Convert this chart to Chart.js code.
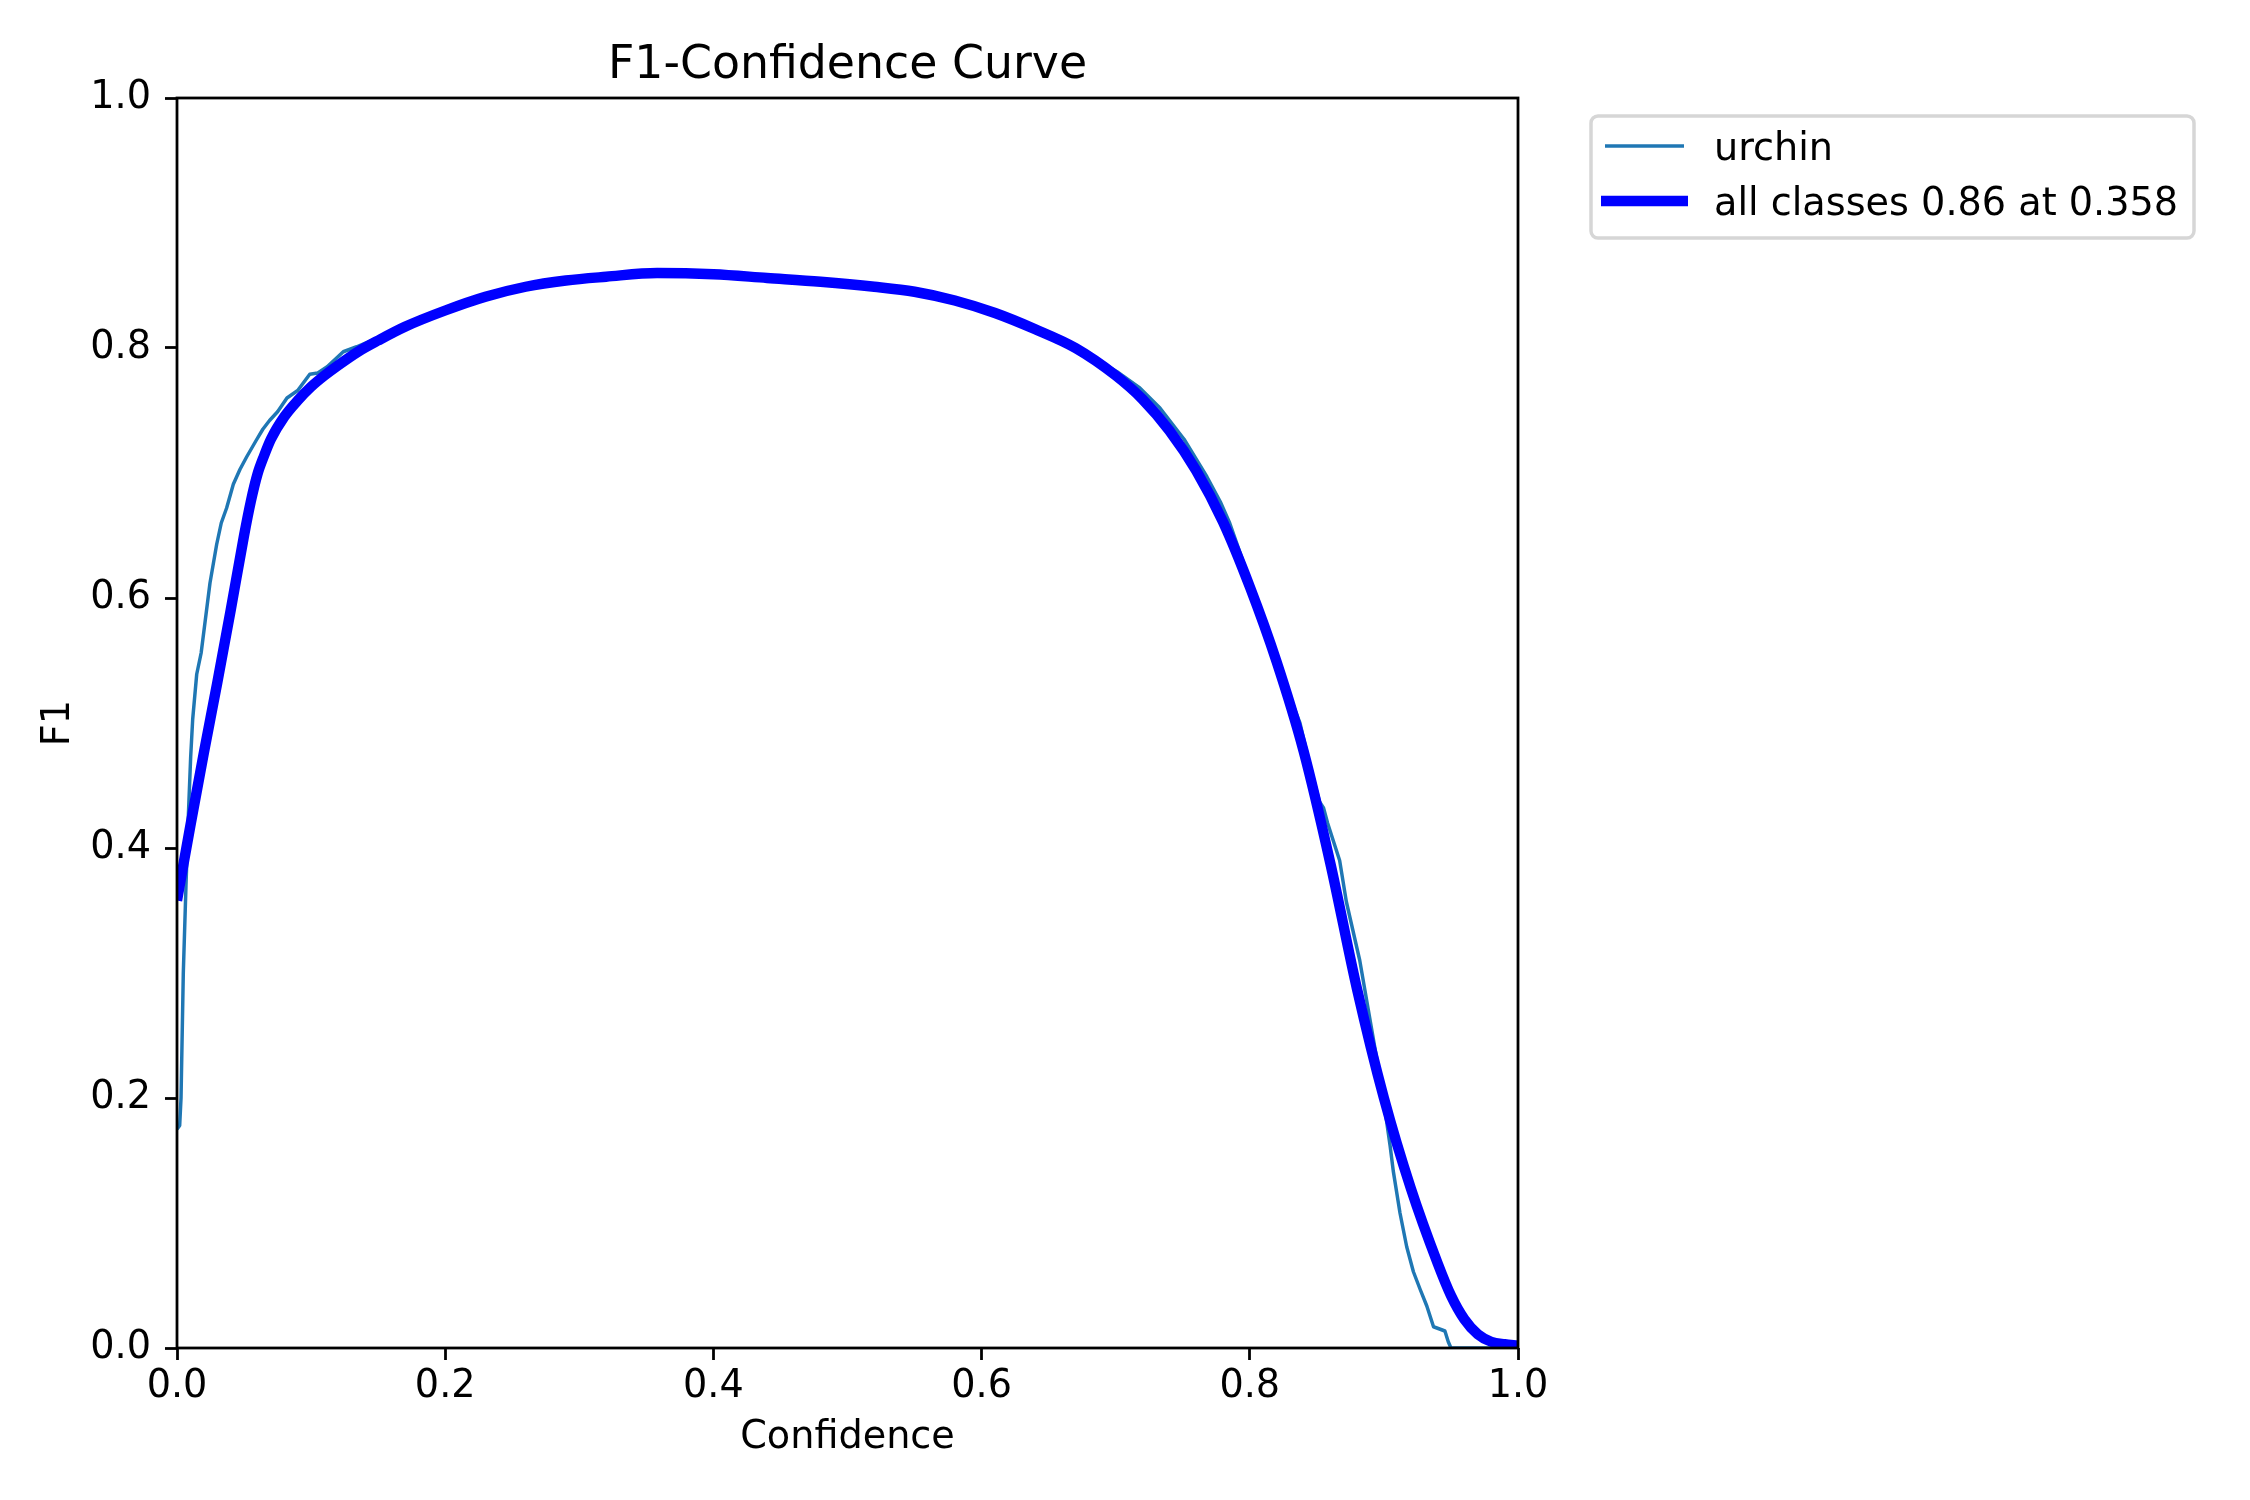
<!DOCTYPE html>
<html><head><meta charset="utf-8">
<script src="https://cdn.jsdelivr.net/npm/chart.js@4.4.1/dist/chart.umd.min.js"></script>
<style>html,body{margin:0;padding:0;background:#fff;}canvas{display:block;}</style>
</head><body>
<canvas id="c" width="2250" height="1500" style="width:2250px;height:1500px"></canvas>
<script>
// ---- data ----
const seriesNames = ['urchin', 'all classes 0.86 at 0.358'];
const titleText = 'F1-Confidence Curve';
const xLabel = 'Confidence';
const yLabel = 'F1';
const xTicks = [0, 0.2, 0.4, 0.6, 0.8, 1.0];
const yTicks = [0, 0.2, 0.4, 0.6, 0.8, 1.0];

const urchinConf = [0.000,0.002,0.003,0.0047,0.0067,0.0085,0.0102,0.0117,0.0147,0.018,0.0246,0.0296,0.033,0.037,0.042,0.047,0.052,0.059,0.064,0.069,0.075,0.082,0.090,0.099,0.105,0.112,0.124,0.134,0.169,0.200,0.231,0.262,0.293,0.330,0.365,0.4025,0.4646,0.527,0.564,0.589,0.614,0.651,0.676,0.701,0.718,0.733,0.751,0.768,0.778,0.785,0.799,0.815,0.828,0.8374,0.845,0.852,0.855,0.858,0.867,0.872,0.882,0.8946,0.902,0.9046,0.907,0.912,0.917,0.922,0.927,0.932,0.937,0.9455,0.948,0.950,1.000];
const urchinF1   = [0.175,0.178,0.200,0.300,0.370,0.427,0.473,0.503,0.539,0.556,0.612,0.643,0.660,0.672,0.691,0.703,0.713,0.726,0.735,0.742,0.749,0.760,0.766,0.779,0.780,0.785,0.797,0.801,0.817,0.831,0.843,0.850,0.855,0.858,0.860,0.859,0.854,0.849,0.843,0.834,0.825,0.810,0.797,0.781,0.768,0.752,0.727,0.697,0.677,0.660,0.617,0.568,0.526,0.500,0.465,0.437,0.432,0.420,0.390,0.357,0.310,0.232,0.1815,0.162,0.1415,0.108,0.081,0.061,0.047,0.0336,0.017,0.0136,0.005,0.000,0.000];

const allConf = [0.000,0.010,0.020,0.030,0.040,0.050,0.055,0.060,0.065,0.070,0.080,0.090,0.100,0.110,0.120,0.135,0.150,0.170,0.200,0.230,0.260,0.290,0.320,0.358,0.400,0.440,0.480,0.520,0.550,0.580,0.610,0.640,0.670,0.700,0.720,0.740,0.760,0.780,0.800,0.820,0.840,0.860,0.880,0.900,0.920,0.940,0.950,0.960,0.970,0.980,0.990,1.000];
const allF1   = [0.358,0.418,0.476,0.532,0.590,0.650,0.677,0.699,0.714,0.727,0.745,0.758,0.769,0.778,0.786,0.797,0.806,0.817,0.830,0.841,0.849,0.854,0.857,0.860,0.859,0.856,0.853,0.849,0.845,0.838,0.828,0.815,0.800,0.778,0.759,0.734,0.702,0.661,0.609,0.549,0.478,0.388,0.287,0.200,0.128,0.068,0.042,0.023,0.011,0.005,0.003,0.002];

// ---- chart ----
const FS = 38.2;
Chart.defaults.font.family = "'DejaVu Sans', sans-serif";
Chart.defaults.font.size = FS;
Chart.defaults.color = '#000';

const toXY = (xs, ys) => xs.map((x, i) => ({x: x, y: ys[i]}));

const titlePlugin = {
  id: 'mplTitle',
  afterDraw(chart) {
    const {ctx, chartArea} = chart;
    ctx.save();
    ctx.font = "45.8px 'DejaVu Sans', sans-serif";
    ctx.fillStyle = '#000';
    ctx.textAlign = 'center';
    ctx.textBaseline = 'alphabetic';
    ctx.fillText(titleText, (chartArea.left + chartArea.right) / 2, 78);
    ctx.restore();
  }
};

const framePlugin = {
  id: 'frame',
  afterDatasetsDraw(chart) {
    const {ctx, chartArea: a} = chart;
    ctx.save();
    ctx.strokeStyle = '#000';
    ctx.lineWidth = 2.78;
    ctx.strokeRect(a.left, a.top, a.right - a.left, a.bottom - a.top);
    ctx.restore();
  }
};

const legendPlugin = {
  id: 'mplLegend',
  afterDraw(chart) {
    const ctx = chart.ctx;
    const bx = 1591, by = 116, bw = 603, bh = 122, r = 7;
    ctx.save();
    ctx.beginPath();
    ctx.moveTo(bx + r, by);
    ctx.arcTo(bx + bw, by, bx + bw, by + bh, r);
    ctx.arcTo(bx + bw, by + bh, bx, by + bh, r);
    ctx.arcTo(bx, by + bh, bx, by, r);
    ctx.arcTo(bx, by, bx + bw, by, r);
    ctx.closePath();
    ctx.fillStyle = 'rgba(255,255,255,0.8)';
    ctx.fill();
    ctx.lineWidth = 3.47;
    ctx.strokeStyle = '#d6d6d6';
    ctx.stroke();
    const ds = chart.data.datasets;
    const rows = [
      {ds: ds[0], y: 146, base: 160},
      {ds: ds[1], y: 201, base: 215}
    ];
    rows.forEach(row => {
      ctx.beginPath();
      ctx.lineWidth = row.ds.borderWidth;
      ctx.strokeStyle = row.ds.borderColor;
      ctx.lineCap = 'butt';
      const ext = row.ds.borderWidth > 5 ? 4 : 0;
      ctx.moveTo(1605 - ext, row.y);
      ctx.lineTo(1684 + ext, row.y);
      ctx.stroke();
      ctx.font = FS + "px 'DejaVu Sans', sans-serif";
      ctx.fillStyle = '#000';
      ctx.textAlign = 'left';
      ctx.textBaseline = 'alphabetic';
      ctx.fillText(row.ds.label, 1714, row.base);
    });
    ctx.restore();
  }
};

new Chart(document.getElementById('c'), {
  type: 'line',
  data: {
    datasets: [
      {
        label: seriesNames[0],
        data: toXY(urchinConf, urchinF1),
        borderColor: '#1f77b4',
        borderWidth: 3.47,
        pointRadius: 0,
        tension: 0,
        fill: false,
        clip: 0,
        borderJoinStyle: 'round',
        order: 1
      },
      {
        label: seriesNames[1],
        data: toXY(allConf, allF1),
        borderColor: '#0000ff',
        borderWidth: 10.4,
        pointRadius: 0,
        cubicInterpolationMode: 'monotone',
        fill: false,
        clip: 0,
        borderJoinStyle: 'round',
        order: 0
      }
    ]
  },
  options: {
    responsive: false,
    maintainAspectRatio: false,
    animation: false,
    devicePixelRatio: 1,
    layout: {padding: {top: 98, left: 0, right: 732, bottom: 0}},
    plugins: {legend: {display: false}, title: {display: false}, tooltip: {enabled: false}},
    scales: {
      x: {
        type: 'linear', min: 0, max: 1, position: 'bottom',
        afterFit(s) { s.height = 152; },
        afterBuildTicks(s) { s.ticks = xTicks.map(v => ({value: v})); },
        ticks: {callback: v => Number(v).toFixed(1), color: '#000', font: {size: FS}, padding: 4, maxRotation: 0, autoSkip: false},
        grid: {display: true, drawOnChartArea: false, drawTicks: true, tickLength: 12, tickWidth: 2.78, tickColor: '#000'},
        border: {display: false},
        title: {display: true, text: xLabel, color: '#000', font: {size: FS}, padding: {top: 0, bottom: 39}}
      },
      y: {
        type: 'linear', min: 0, max: 1, position: 'left',
        afterFit(s) { s.width = 177; },
        afterBuildTicks(s) { s.ticks = yTicks.map(v => ({value: v})); },
        ticks: {callback: v => Number(v).toFixed(1), color: '#000', font: {size: FS}, padding: 14, autoSkip: false},
        grid: {display: true, drawOnChartArea: false, drawTicks: true, tickLength: 12, tickWidth: 2.78, tickColor: '#000'},
        border: {display: false},
        title: {display: true, text: yLabel, color: '#000', font: {size: FS}, padding: {top: 36, bottom: 0}}
      }
    }
  },
  plugins: [framePlugin, titlePlugin, legendPlugin]
});
</script>
</body></html>
